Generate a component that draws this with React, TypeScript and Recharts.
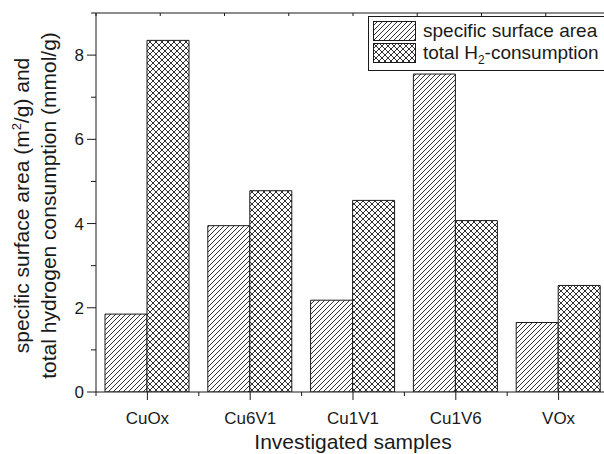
import { BarChart, Bar, XAxis, YAxis } from 'recharts'

const samples = ['CuOx', 'Cu6V1', 'Cu1V1', 'Cu1V6', 'VOx']
const surfaceArea = [1.85, 3.95, 2.18, 7.55, 1.65]
const h2Consumption = [8.35, 4.78, 4.55, 4.07, 2.53]
const yTicks = [0, 1, 2, 3, 4, 5, 6, 7, 8, 9]
const topTicks = [0, 0.5, 1, 1.5, 2, 2.5, 3, 3.5, 4, 4.5, 5]

const data = samples.map((sample, i) => ({
  sample,
  area: surfaceArea[i],
  h2: h2Consumption[i],
}))

const FONT = '"Liberation Sans", Arial, Helvetica, sans-serif'
const INK = '#1a1a1a'

function Patterns({ prefix }: { prefix: string }) {
  return (
    <defs>
      <pattern id={`${prefix}-hatch`} width={5} height={5} patternUnits="userSpaceOnUse">
        <rect width={5} height={5} fill="#fff" />
        <path d="M-1,1 L1,-1 M0,5 L5,0 M4,6 L6,4" stroke={INK} strokeWidth={0.9} />
      </pattern>
      <pattern id={`${prefix}-cross`} width={6} height={6} patternUnits="userSpaceOnUse">
        <rect width={6} height={6} fill="#fff" />
        <path d="M-1,-1 L7,7 M7,-1 L-1,7" stroke={INK} strokeWidth={0.9} />
      </pattern>
    </defs>
  )
}

// eslint-disable-next-line @typescript-eslint/no-explicit-any
function YTick({ x, y, payload }: any) {
  const major = payload.value % 2 === 0
  return (
    <g>
      <line x1={x - (major ? 9 : 5)} x2={x} y1={y} y2={y} stroke={INK} />
      {major && (
        <text x={x - 12} y={y} dy="0.35em" textAnchor="end" fontSize={17} fontFamily={FONT} fill={INK}>
          {payload.value}
        </text>
      )}
    </g>
  )
}

// eslint-disable-next-line @typescript-eslint/no-explicit-any
function XTick({ x, y, payload, index }: any) {
  const half = payload.offset ?? 51.4
  return (
    <g>
      <line x1={x} x2={x} y1={y} y2={y + 8} stroke={INK} />
      <line x1={x - half} x2={x - half} y1={y} y2={y + 4} stroke={INK} />
      {index === samples.length - 1 && (
        <line x1={x + half} x2={x + half} y1={y} y2={y + 4} stroke={INK} />
      )}
      <text x={x} y={y + 32} textAnchor="middle" fontSize={17} fontFamily={FONT} fill={INK}>
        {payload.value}
      </text>
    </g>
  )
}

// eslint-disable-next-line @typescript-eslint/no-explicit-any
function YTitle({ viewBox }: any) {
  const cy = viewBox.y + viewBox.height / 2 + 3
  return (
    <g fontSize={21} fontFamily={FONT} fill={INK}>
      <text transform={`translate(${viewBox.x + 29}, ${cy}) rotate(-90)`} textAnchor="middle">
        specific surface area (m<tspan dy={-8} fontSize={13}>2</tspan>
        <tspan dy={8}>/g) and</tspan>
      </text>
      <text transform={`translate(${viewBox.x + 56}, ${cy}) rotate(-90)`} textAnchor="middle">
        total hydrogen consumption (mmol/g)
      </text>
    </g>
  )
}

function Swatch({ kind }: { kind: 'hatch' | 'cross' }) {
  return (
    <svg width={43} height={20} style={{ display: 'block' }}>
      <Patterns prefix={`legend-${kind}`} />
      <rect
        x={0.5}
        y={0.5}
        width={42}
        height={19}
        fill={`url(#legend-${kind}-${kind})`}
        stroke={INK}
      />
    </svg>
  )
}

function LegendBox() {
  const text = {
    position: 'absolute' as const,
    left: 54,
    fontSize: 19,
    lineHeight: '22px',
    fontFamily: FONT,
    color: INK,
    whiteSpace: 'nowrap' as const,
  }
  return (
    <div
      style={{
        position: 'absolute',
        left: 368,
        top: 16,
        width: 260,
        height: 53,
        border: `1px solid ${INK}`,
        background: '#fff',
      }}
    >
      <div style={{ position: 'absolute', left: 4, top: 4 }}>
        <Swatch kind="hatch" />
      </div>
      <div style={{ ...text, top: 3 }}>specific surface area</div>
      <div style={{ position: 'absolute', left: 4, top: 26 }}>
        <Swatch kind="cross" />
      </div>
      <div style={{ ...text, top: 25 }}>
        total H
        <span style={{ fontSize: 12, position: 'relative', top: 5 }}>2</span>
        -consumption
      </div>
    </div>
  )
}

export default function App() {
  return (
    <div
      style={{
        position: 'absolute',
        left: 0,
        top: 0,
        width: 604,
        height: 454,
        overflow: 'hidden',
        background: '#fff',
      }}
    >
      <BarChart
        width={612}
        height={454}
        data={data}
        margin={{ top: 13, right: 2, bottom: 0, left: 0 }}
        barCategoryGap={9}
        barGap={0}
      >
        <defs>
          <pattern id="chart-hatch" width={5} height={5} patternUnits="userSpaceOnUse">
            <rect width={5} height={5} fill="#fff" />
            <path d="M-1,1 L1,-1 M0,5 L5,0 M4,6 L6,4" stroke={INK} strokeWidth={0.9} />
          </pattern>
          <pattern id="chart-cross" width={6} height={6} patternUnits="userSpaceOnUse">
            <rect width={6} height={6} fill="#fff" />
            <path d="M-1,-1 L7,7 M7,-1 L-1,7" stroke={INK} strokeWidth={0.9} />
          </pattern>
        </defs>

        {/* top frame with small inward ticks */}
        <XAxis
          xAxisId="top"
          orientation="top"
          type="number"
          domain={[0, 5]}
          ticks={topTicks}
          allowDataOverflow
          mirror
          height={1}
          tickSize={3}
          tickFormatter={() => ''}
          axisLine={{ stroke: INK }}
          tickLine={{ stroke: INK }}
        />

        <XAxis
          dataKey="sample"
          height={62}
          interval={0}
          tickLine={false}
          tickSize={0}
          tickMargin={0}
          axisLine={{ stroke: INK }}
          tick={<XTick />}
          label={{
            value: 'Investigated samples',
            position: 'insideBottom',
            offset: 5,
            fontSize: 21,
            fontFamily: FONT,
            fill: INK,
          }}
        />

        <YAxis
          width={96}
          domain={[0, 9]}
          ticks={yTicks}
          interval={0}
          allowDataOverflow
          tickLine={false}
          tickSize={0}
          tickMargin={0}
          axisLine={{ stroke: INK }}
          tick={<YTick />}
          label={{ content: <YTitle /> }}
        />

        <Bar dataKey="area" fill="url(#chart-hatch)" stroke={INK} strokeWidth={1} isAnimationActive={false} />
        <Bar dataKey="h2" fill="url(#chart-cross)" stroke={INK} strokeWidth={1} isAnimationActive={false} />
      </BarChart>
      <LegendBox />
    </div>
  )
}
